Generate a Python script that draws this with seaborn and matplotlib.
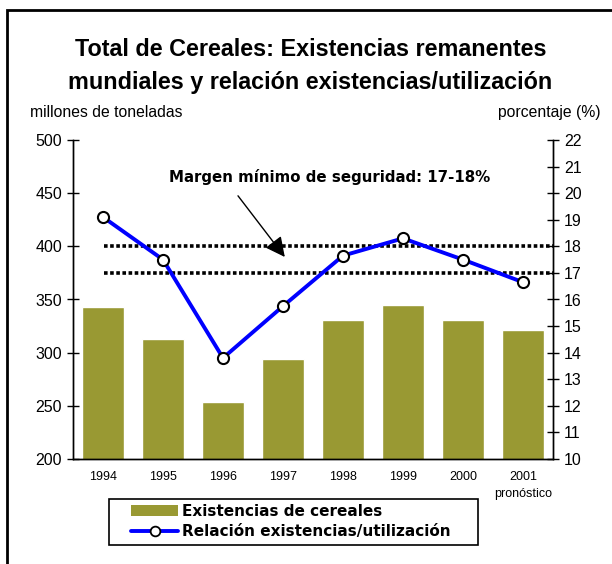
import numpy as np
import pandas as pd
import matplotlib
matplotlib.use('Agg')
import matplotlib.pyplot as plt
import matplotlib.patches as mpatches
from matplotlib.lines import Line2D
import seaborn as sns

# Data
years = ['1994', '1995', '1996', '1997', '1998', '1999', '2000', '2001\npronóstico']
stocks = [343, 313, 254, 294, 331, 345, 331, 321]          # millones de toneladas
ratio = [19.1, 17.5, 13.8, 15.75, 17.65, 18.3, 17.5, 16.65]  # porcentaje (%)
margin_low, margin_high = 17, 18

sns.set_style('white')
plt.rcParams['font.family'] = ['Liberation Sans', 'DejaVu Sans']
plt.rcParams['text.color'] = 'black'
plt.rcParams['xtick.color'] = 'black'
plt.rcParams['ytick.color'] = 'black'

olive = '#999933'
df = pd.DataFrame({'year': years, 'stocks': stocks, 'ratio': ratio, 'pos': np.arange(len(years))})

fig = plt.figure(figsize=(6.12, 5.64), dpi=100)
ax = fig.add_axes([73/612, 1 - 459/564, 480/612, 319/564])

sns.barplot(data=df, x='year', y='stocks', color=olive, width=0.69, saturation=1, ax=ax)
ax.set_ylim(200, 500)
ax.set_xlim(-0.5, len(years) - 0.5)
ax.set_yticks(np.arange(200, 501, 50))
ax.set_xlabel('')
ax.set_ylabel('')

ax2 = ax.twinx()
ax2.hlines([margin_high, margin_low], 0.02, len(years) - 0.5, colors='black',
           linestyles=(0, (1.0, 0.7)), lw=2.6, zorder=2)
sns.lineplot(data=df, x='pos', y='ratio', color='#0000ff', lw=2.8, marker='o',
             markersize=8, markerfacecolor='white', markeredgecolor='black',
             markeredgewidth=1.5, ax=ax2, zorder=3)
ax2.set_ylim(10, 22)
ax2.set_yticks(np.arange(10, 23, 1))
ax2.set_xlim(-0.5, len(years) - 0.5)
ax2.set_ylabel('')

for a in (ax, ax2):
    a.spines['top'].set_visible(False)
    for s in ('left', 'right', 'bottom'):
        a.spines[s].set_color('black')
        a.spines[s].set_linewidth(1.0)
    a.tick_params(axis='y', direction='inout', length=8, width=1, labelsize=11.5, pad=4)

# x ticks at category boundaries
ax.set_xticks(np.arange(len(years)))
ax.set_xticklabels(years, fontsize=9, linespacing=1.5)
ax.tick_params(axis='x', which='major', length=0, pad=9)
ax.set_xticks(np.arange(-0.5, len(years)), minor=True)
ax.tick_params(axis='x', which='minor', direction='inout', length=8, width=1)

# annotation
ax2.text(3.78, 20.6, 'Margen mínimo de seguridad: 17-18%', ha='center', va='center',
         fontsize=10.8, fontweight='bold', family=['DejaVu Sans'])
ax2.annotate('', xy=(3.03, 17.6), xytext=(2.25, 19.9),
             arrowprops=dict(arrowstyle='-|>', color='black', lw=1.0,
                             mutation_scale=30, shrinkA=0, shrinkB=0))

# titles
fig.text(0.507, 1 - 50/564, 'Total de Cereales: Existencias remanentes', ha='center', va='center',
         fontsize=16.8, fontweight='bold')
fig.text(0.507, 1 - 83/564, 'mundiales y relación existencias/utilización', ha='center', va='center',
         fontsize=16.8, fontweight='bold')
fig.text(30/612, 1 - 112/564, 'millones de toneladas', ha='left', va='center', fontsize=11.3)
fig.text(601/612, 1 - 112/564, 'porcentaje (%)', ha='right', va='center', fontsize=11.3)

# legend
handles = [mpatches.Patch(facecolor=olive, edgecolor='none'),
           Line2D([0], [0], color='#0000ff', lw=2.8, marker='o', markersize=7,
                  markerfacecolor='white', markeredgecolor='black', markeredgewidth=1.3)]
leg = fig.legend(handles, ['Existencias de cereales', 'Relación existencias/utilización'],
                 loc='upper left', bbox_to_anchor=(131/612, 1 - 504/564), frameon=False,
                 handlelength=3.1, handleheight=0.75, labelspacing=0.35,
                 borderpad=0, borderaxespad=0, handletextpad=0.25,
                 prop={'family': 'DejaVu Sans', 'weight': 'bold', 'size': 11})
fig.patches.append(mpatches.Rectangle((109/612, 19/564), 369/612, 46/564, transform=fig.transFigure,
                                      fill=False, edgecolor='black', lw=1.2))

# outer frame (cropped)
fig.patches.append(mpatches.Rectangle((7/612, -0.2), 1.2, 1.2 - 10/564, transform=fig.transFigure,
                                      fill=False, edgecolor='black', lw=2))

fig.savefig('out.png', dpi=100)
